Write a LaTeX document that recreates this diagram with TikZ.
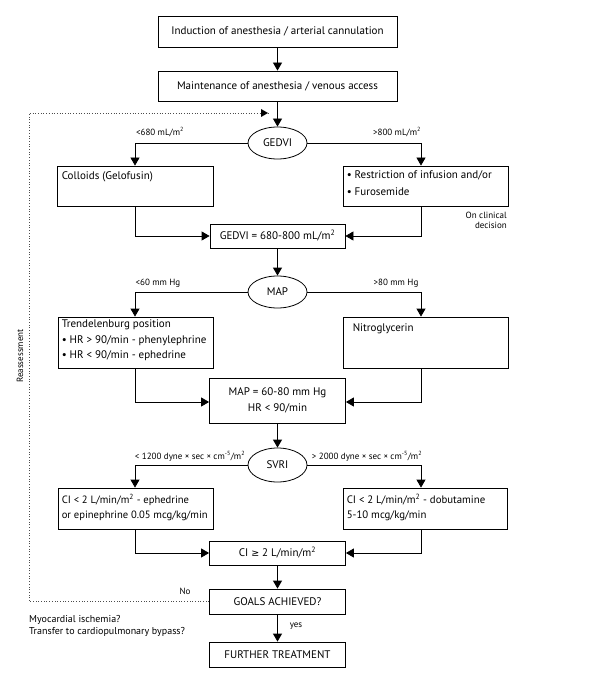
\documentclass[tikz,border=0pt]{standalone}
\usepackage{fontspec}
\setmainfont{PT Sans}
\newfontfamily\symfont{DejaVu Sans}
\usetikzlibrary{shapes.geometric,arrows.meta}
\begin{document}
\begin{tikzpicture}[x=1pt,y=-1pt,
  box/.style={draw, line width=0.8pt, inner sep=0pt, font=\fontsize{11}{13}\selectfont},
  oval/.style={draw, ellipse, line width=0.8pt, inner sep=0pt, minimum width=59pt, minimum height=32pt, font=\fontsize{11}{13}\selectfont},
  conn/.style={line width=0.8pt, -{Triangle[length=8pt,width=9pt]}},
  lbl/.style={inner sep=0pt, font=\fontsize{9}{10.5}\selectfont},
  txt/.style={inner sep=0pt, anchor=north west, align=left, font=\fontsize{11}{15.5}\selectfont},
  dots/.style={line width=0.7pt, dotted, black!70}]
\useasboundingbox (0,0) rectangle (600,684);

% main column
\node[box, minimum width=239pt, minimum height=31pt] (b1) at (277.5,31.5) {Induction of anesthesia / arterial cannulation};
\node[box, minimum width=239pt, minimum height=30pt] (b2) at (277.5,86) {Maintenance of anesthesia / venous access};
\node[oval] (gedvi) at (277.5,143) {GEDVI};
\node[box, minimum width=156pt, minimum height=40pt] (coll) at (135,186) {};
\node[box, minimum width=165pt, minimum height=40pt] (restr) at (425.5,186) {};
\node[box, minimum width=135pt, minimum height=24pt] (gedvi2) at (277.5,236) {GEDVI = 680-800 mL/m\textsuperscript{2}};
\node[oval] (map) at (277.5,292) {MAP};
\node[box, minimum width=155pt, minimum height=51pt] (trend) at (135.5,342.5) {};
\node[box, minimum width=165pt, minimum height=51pt] (nitro) at (425.5,342.5) {};
\node[box, minimum width=136pt, minimum height=45pt, align=center, font=\fontsize{11}{16}\selectfont] (map2) at (277.5,400.5) {MAP = 60-80 mm Hg\\HR < 90/min};
\node[oval, minimum height=34pt] (svri) at (277.5,465) {SVRI};
\node[box, minimum width=155pt, minimum height=41pt] (cil) at (135.5,508.5) {};
\node[box, minimum width=164pt, minimum height=41pt] (cir) at (425,508.5) {};
\node[box, minimum width=136pt, minimum height=24pt] (ci2) at (277.5,553) {CI {\symfont\fontsize{9.5}{10}\selectfont ≥} 2 L/min/m\textsuperscript{2}};
\node[box, minimum width=136pt, minimum height=25pt] (goals) at (277.5,601.5) {GOALS ACHIEVED?};
\node[box, minimum width=136pt, minimum height=25pt] (further) at (277.5,654.5) {FURTHER TREATMENT};

% box texts
\node[txt] (tcoll) at ([shift={(5,6)}]coll.north west) {Colloids (Gelofusin)};
\node[txt, font=\fontsize{11}{17}\selectfont] (trestr) at ([shift={(4,5)}]restr.north west) {• Restriction of infusion and/or\\• Furosemide};
\node[txt] (ttrend) at ([shift={(4,3)}]trend.north west) {Trendelenburg position\\• HR > 90/min - phenylephrine\\• HR < 90/min - ephedrine};
\node[txt] (tnitro) at ([shift={(10,7)}]nitro.north west) {Nitroglycerin};
\node[txt, font=\fontsize{10.6}{15}\selectfont] (tcil) at ([shift={(4,6)}]cil.north west) {CI < 2 L/min/m\textsuperscript{2} - ephedrine\\or epinephrine 0.05 mcg/kg/min};
\node[txt, font=\fontsize{10.8}{15}\selectfont] (tcir) at ([shift={(4,6)}]cir.north west) {CI < 2 L/min/m\textsuperscript{2} - dobutamine\\5-10 mcg/kg/min};

% connectors
\draw[conn] (b1) -- (b2);
\draw[conn] (b2) -- (gedvi);
\draw[conn] (gedvi.west) -| (coll.north -| 135,0);
\draw[conn] (gedvi.east) -| (restr.north -| 421,0);
\draw[conn] (coll.south) |- (gedvi2.west);
\draw[conn] (restr.south -| 421,0) |- (gedvi2.east);
\draw[conn] (gedvi2) -- (map);
\draw[conn] (map.west) -| (trend.north -| 135,0);
\draw[conn] (map.east) -| (nitro.north -| 421,0);
\draw[conn] (trend.south -| 135,0) |- ([yshift=-1.5pt]map2.west);
\draw[conn] (nitro.south -| 421,0) |- ([yshift=-1.5pt]map2.east);
\draw[conn] (map2) -- (svri);
\draw[conn] (svri.west) -| (cil.north -| 135,0);
\draw[conn] (svri.east) -| (cir.north -| 421,0);
\draw[conn] (cil.south -| 135,0) |- (ci2.west);
\draw[conn] (cir.south -| 421,0) |- (ci2.east);
\draw[conn] (ci2) -- (goals);
\draw[conn] (goals) -- (further);

% reassessment loop
\coordinate (reent) at (268,113);
\coordinate (lc) at (29,601.5);
\draw[dots] (goals.west) -- (lc) -- (lc |- reent) -- (reent);
\fill[black] (reent) -- ++(-7,-4) -- ++(0,8) -- cycle;

% labels
\node[lbl] (l1) at (160,132) {<680 mL/m\textsuperscript{2}};
\node[lbl] (l2) at (397,132) {>800 mL/m\textsuperscript{2}};
\node[lbl, align=right, anchor=east] (l3) at (507,220.5) {On clinical\\decision};
\node[lbl] (l4) at (158,283) {<60 mm Hg};
\node[lbl] (l5) at (396,283) {>80 mm Hg};
\node[lbl] (l6) at (190,456) {< 1200 dyne × sec × cm\textsuperscript{-5}/m\textsuperscript{2}};
\node[lbl] (l7) at (367,456) {> 2000 dyne × sec × cm\textsuperscript{-5}/m\textsuperscript{2}};
\node[lbl] (l8) at (185,591) {No};
\node[lbl] (l9) at (296,626) {yes};
\node[lbl, rotate=90] (l10) at (20,356) {Reassessment};
\node[lbl, anchor=west, align=left, font=\fontsize{10}{12}\selectfont] (l11) at (29,626) {Myocardial ischemia?\\Transfer to cardiopulmonary bypass?};
\end{tikzpicture}
\end{document}
